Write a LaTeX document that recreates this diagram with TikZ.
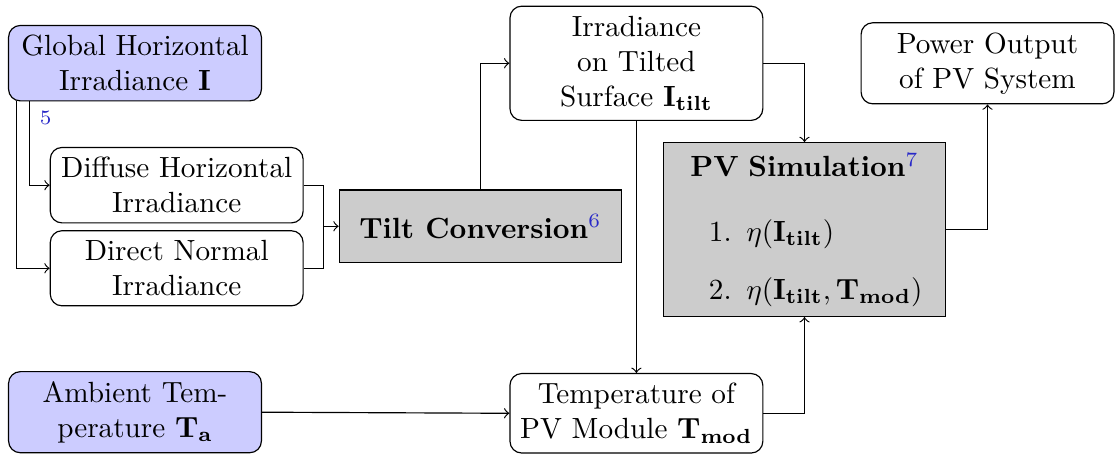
\documentclass[tikz,border=0pt]{standalone}
\usepackage{xcolor}
\definecolor{fnblue}{RGB}{40,40,200}
\definecolor{inputblue}{RGB}{204,204,255}
\definecolor{stepgray}{RGB}{204,204,204}
\begin{document}
\begin{tikzpicture}[x=0.3425pt,y=0.3425pt,yscale=-1,
  rbox/.style={draw, rounded corners=4pt, align=center, minimum width=86.6pt},
  inbox/.style={rbox, fill=inputblue},
  stepbox/.style={draw, fill=stepgray, minimum width=96.6pt},
  arr/.style={->},
  fnlabel/.style={font=\scriptsize, text=fnblue}]
\useasboundingbox (0,0) rectangle (1118,455);
% inputs
\node[inbox] (ghi) at (135,63.2) {Global Horizontal\\Irradiance $\mathbf{I}$};
\node[inbox] (amb) at (135,412.2) {Ambient Tem-\\perature $\mathbf{T_a}$};
% irradiance components
\node[rbox] (dhi) at (176.7,185.2) {Diffuse Horizontal\\Irradiance};
\node[rbox] (dni) at (176.7,268.3) {Direct Normal\\Irradiance};
% processing steps
\node[stepbox, minimum height=24.9pt] (tilt) at (480.3,226.3) {\textbf{Tilt Conversion}\textsuperscript{\color{fnblue}6}};
\node[rbox] (irr) at (636.4,63.3) {Irradiance\\on Tilted\\Surface $\mathbf{I_{tilt}}$};
\node[rbox] (tmod) at (636.4,413.3) {Temperature of\\PV Module $\mathbf{T_{mod}}$};
\node[stepbox, minimum height=58.5pt, text width=89.9pt] (pv) at (804.5,229.6) {{\centering\textbf{PV Simulation}\textsuperscript{\color{fnblue}7}\par}
  \begin{enumerate}
    \item $\eta(\mathbf{I_{tilt}})$
    \item $\eta(\mathbf{I_{tilt}}, \mathbf{T_{mod}})$
  \end{enumerate}};
\node[rbox] (pwr) at (987.5,63.3) {Power Output\\of PV System};
% connections
\draw[arr] ([xshift=2.9pt]ghi.south west) |- (dni.west);
\draw[arr] ([xshift=7.4pt]ghi.south west) |- node[fnlabel, pos=0.1, right] (fn5) {5} (dhi.west);
\coordinate (merge) at ([xshift=-5.2pt]tilt.west);
\draw (dhi.east) -| (merge);
\draw (dni.east) -| (merge);
\draw[arr] (merge) -- (tilt.west);
\draw[arr] (tilt.north) |- (irr.west);
\draw[arr] (irr.east) -| (pv.north);
\draw[arr] (irr.south) -- (tmod.north);
\draw[arr] (amb.east) -- (tmod.west);
\draw[arr] (tmod.east) -| (pv.south);
\draw[arr] (pv.east) -| (pwr.south);
\end{tikzpicture}
\end{document}
